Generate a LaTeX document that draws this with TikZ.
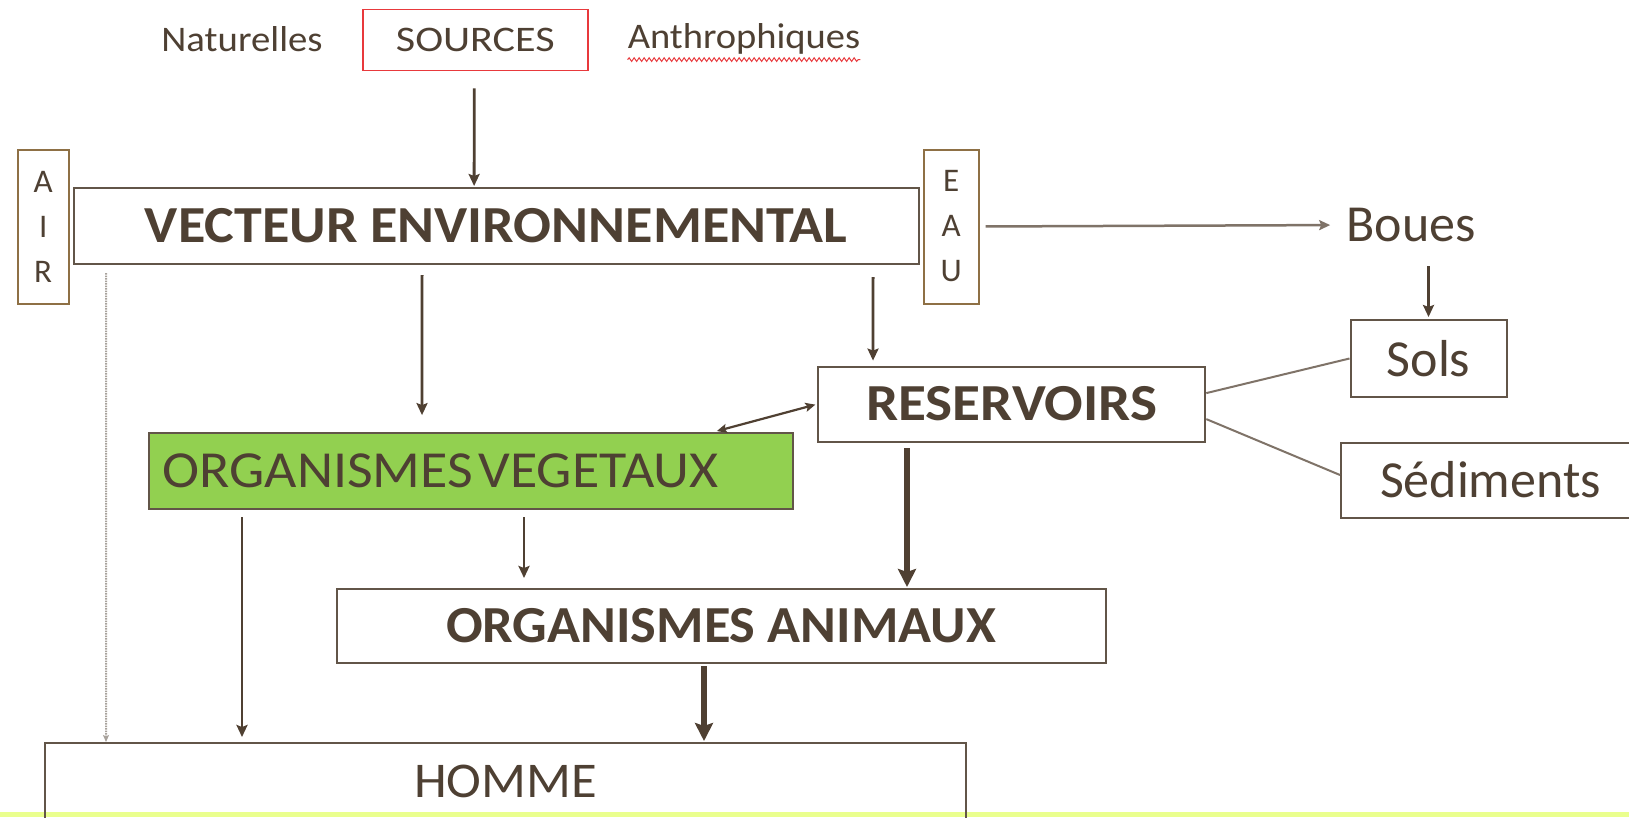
\documentclass[tikz,border=0pt]{standalone}
\usepackage{fontspec}
\usepackage{graphicx}
\setmainfont{Carlito}
\usetikzlibrary{arrows.meta,decorations.pathmorphing}

\definecolor{txt}{HTML}{4E4033}
\definecolor{edgec}{HTML}{625548}
\definecolor{gold}{HTML}{8E7045}
\definecolor{srcred}{HTML}{E8393C}
\definecolor{leaf}{HTML}{92D050}
\definecolor{lime}{HTML}{EAFF8E}
\definecolor{arrowc}{HTML}{4F4032}
\definecolor{greyline}{HTML}{7F7368}
\definecolor{airline}{HTML}{A8A29C}

% horizontally widened text
\newcommand{\widen}[2]{\scalebox{#1}[1]{#2}}

\begin{document}
\begin{tikzpicture}[x=1pt,y=-1pt,
  box/.style={draw=edgec, line width=2pt, text=txt, inner sep=0pt},
  sidebox/.style={draw=gold, line width=2pt, text=txt, inner sep=0pt, align=center,
    font={\fontsize{33}{45}\selectfont}},
  small/.style={font={\fontsize{36}{40}\selectfont}, text=txt, inner sep=0pt},
  large/.style={font={\fontsize{52}{56}\selectfont}},
  largebold/.style={font={\fontsize{52}{56}\selectfont\bfseries}},
  arr/.style={draw=arrowc, line width=2.8pt, -{Stealth[length=12pt,width=11pt,inset=2pt]}},
  thickarr/.style={draw=arrowc, line width=6pt, -{Stealth[length=18pt,width=18pt,inset=3pt]}},
  link/.style={draw=greyline, line width=2pt},
]
\useasboundingbox (0,0) rectangle (1629,817);
\clip (0,0) rectangle (1629,817);
\fill[white] (0,0) rectangle (1629,817);

% bottom band
\fill[lime] (0,812) rectangle (1629,817);

% header
\node[small] (nat) at (242,39) {\widen{1.077}{Naturelles}};
\node[small, draw=srcred, line width=1.5pt, minimum width=225pt, minimum height=61pt] (src) at (475.3,40) {\widen{1.17}{SOURCES}};
\node[small] (anth) at (744,39) {\widen{1.07}{Anthrophiques}};
\draw[srcred, line width=1pt, decorate, decoration={snake, amplitude=1.8pt, segment length=5pt}]
  ([yshift=-5pt]anth.south west) -- ([yshift=-5pt]anth.south east);

% main vector
\node[sidebox, minimum width=51pt, minimum height=154pt] (air) at (43.2,226.5) {A\\I\\R};
\node[box, largebold, minimum width=845pt, minimum height=76pt] (vect) at (496.1,226) {\widen{1.078}{VECTEUR ENVIRONNEMENTAL}};
\node[sidebox, minimum width=55pt, minimum height=154pt] (eau) at (951.2,226.5) {E\\A\\U};

% water branch
\node[large, text=txt, inner sep=0pt] (boues) at (1411,225) {Boues};
\node[box, large, minimum width=156pt, minimum height=77pt] (sols) at (1428.5,358.5) {Sols};
\node[box, largebold, minimum width=387pt, minimum height=75pt] (res) at (1011.8,404.1) {\widen{1.10}{RESERVOIRS}};
\node[box, large, minimum width=299pt, minimum height=75pt] (sed) at (1490.5,480) {Sédiments};

% organisms
\node[box, fill=leaf, large, text width=616pt, align=left, inner xsep=14pt, minimum height=76pt] (veg) at (470.6,471.1) {\widen{1.075}{ORGANISMES\kern5pt VEGETAUX}};
\node[box, largebold, minimum width=769pt, minimum height=74pt] (anim) at (721,626) {\widen{1.045}{ORGANISMES ANIMAUX}};
\node[box, font={\fontsize{50}{54}\selectfont}, minimum width=921.5pt, minimum height=76pt] (hom) at (505.5,781) {\widen{1.05}{HOMME}};

% connectors
\draw[arr, shorten <=17pt, shorten >=1pt] ([xshift=-1pt]src.south) -- ([xshift=-22pt]vect.north);
\draw[arr, shorten <=10pt, shorten >=17pt] ([xshift=-74pt]vect.south) -- ([xshift=-48.6pt]veg.north);
\draw[arr, shorten <=12pt, shorten >=5pt] ([xshift=377pt]vect.south) -- ([xshift=-138.8pt]res.north);
\draw[draw=arrowc, line width=2.2pt, {Stealth[length=10pt,width=9pt,inset=2pt]}-{Stealth[length=10pt,width=9pt,inset=2pt]}, shorten <=2pt, shorten >=4pt]
  (res.west) -- ([xshift=242.4pt]veg.north);
\draw[thickarr, shorten <=5.5pt, shorten >=1pt] ([xshift=-104.8pt]res.south) -- ([xshift=186pt]anim.north);
\draw[arr, shorten <=7pt, shorten >=10pt] ([xshift=53.4pt]veg.south) -- ([xshift=-197pt]anim.north);
\draw[arr, shorten <=7pt, shorten >=5pt] ([xshift=-228.6pt]veg.south) -- ([xshift=-263.5pt]hom.north);
\draw[thickarr, shorten <=2pt, shorten >=1pt] ([xshift=-17pt]anim.south) -- ([xshift=198.5pt]hom.north);
\draw[draw=airline, line width=2pt, dash pattern=on 1.5pt off 1pt, -{Stealth[length=7pt,width=6pt,inset=1.5pt]}, shorten <=8pt]
  ([xshift=-390pt]vect.south) -- ([xshift=-399.5pt]hom.north);

\draw[draw=greyline, line width=2.5pt, -{Stealth[length=11pt,width=10pt,inset=2pt]}, shorten <=6pt, shorten >=16pt]
  (eau.east) -- (boues.west);
\draw[arr, shorten <=24pt, shorten >=2pt] (boues.south -| sols.north) -- (sols.north);
\draw[link] ([yshift=11pt]res.east) -- (sols.west);
\draw[link] ([yshift=-15pt]res.east) -- ([yshift=5pt]sed.west);
\end{tikzpicture}
\end{document}
